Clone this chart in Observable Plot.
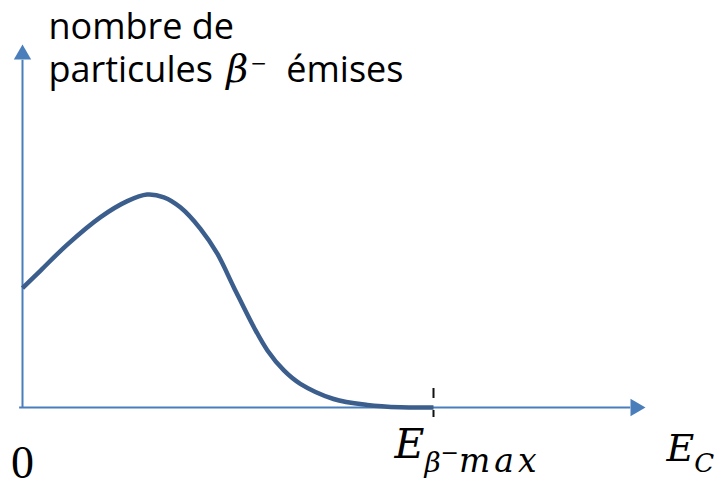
<!DOCTYPE html>
<html>
<head>
<meta charset="utf-8">
<script src="https://cdn.jsdelivr.net/npm/d3@7"></script>
<script src="https://cdn.jsdelivr.net/npm/@observablehq/plot@0.6"></script>
<style>
  body { margin: 0; background: #fff; }
</style>
</head>
<body>
<div id="chart"></div>
<script>
// Beta-minus spectrum: kinetic energy in units of E_β−max, counts relative to the peak
const energy = [0, 0.044, 0.109, 0.190, 0.255, 0.303, 0.344, 0.384, 0.433, 0.474, 0.514, 0.563, 0.596, 0.636, 0.676, 0.757, 0.839, 0.920, 1.0];
const counts = [0.56, 0.643, 0.765, 0.894, 0.969, 1.0, 0.987, 0.940, 0.839, 0.722, 0.565, 0.377, 0.268, 0.174, 0.111, 0.040, 0.012, 0.001, 0];

// Axis extents (data units) and the E_β−max marker
const xAxisStart = -0.007;
const xAxisEnd = 1.48;
const xArrow = 1.4915;
const yAxisEnd = 1.63;
const yArrow = 1.657;
const eMax = [1];

// Text labels
const titleLines = ["nombre de", "particules β− émises"];
const originLabel = ["0"];
const eMaxLabel = ["Eβ−max"];
const axisLabel = ["EC"];

const axisColor = "#4a7ebb";
const curveColor = "#3b5e8c";
const serif = "Liberation Serif";
const mathSerif = "DejaVu Serif";

// Pieces of the labels that mix fonts, sizes and sub/superscripts
const richLabels = {
  "particules β− émises": [
    {text: "particules "},
    {text: "β", family: mathSerif, style: "italic", size: 38, dx: 4},
    {text: "−", family: mathSerif, size: 20, dy: -12, dx: 2},
    {text: " émises", dy: 12, dx: 10}
  ],
  "Eβ−max": [
    {text: "E"},
    {text: "β", size: 28, dy: 14},
    {text: "−", style: "normal", size: 22, dy: -12},
    {text: "max", size: 33, dy: 12, spacing: 4}
  ],
  "EC": [
    {text: "E"},
    {text: "C", size: 26, dy: 11}
  ]
};

const chart = Plot.plot({
  width: 717,
  height: 481,
  margin: 0,
  x: {domain: [0, 1], range: [22, 433], axis: null},
  y: {domain: [0, 1], range: [407, 194], axis: null},
  style: {background: "#fff", overflow: "visible"},
  marks: [
    // axes with arrowheads
    Plot.ruleY([0], {x1: xAxisStart, x2: xAxisEnd, stroke: axisColor, strokeWidth: 2}),
    Plot.ruleX([0], {y1: 0, y2: yAxisEnd, stroke: axisColor, strokeWidth: 2}),
    Plot.dot([{x: xArrow, y: 0, a: 90}, {x: 0, y: yArrow, a: 0}], {
      x: "x", y: "y", rotate: "a", symbol: "triangle", r: 6.43, fill: axisColor, stroke: "none"
    }),
    // spectrum
    Plot.line(energy, {x: energy, y: counts, curve: "catmull-rom", stroke: curveColor, strokeWidth: 4.5, strokeLinecap: "butt"}),
    // E_β−max marker
    Plot.ruleX(eMax, {x: d => d, y1: 0.089, y2: -0.047, stroke: "#111", strokeWidth: 2, strokeDasharray: "10,12"}),
    // labels
    Plot.text(titleLines, {
      x: 0.063, y: (d, i) => [1.732, 1.526][i], text: d => d,
      textAnchor: "start", lineAnchor: "bottom", fontFamily: "Open Sans", fontSize: 36, fill: "#000"
    }),
    Plot.text(originLabel, {
      x: 0, y: -0.329, text: d => d,
      textAnchor: "middle", lineAnchor: "bottom", fontFamily: serif, fontSize: 46, fill: "#000"
    }),
    Plot.text(eMaxLabel, {
      x: 0.905, y: -0.239, text: d => d,
      textAnchor: "start", lineAnchor: "bottom", fontFamily: mathSerif, fontStyle: "italic", fontSize: 41, fill: "#000"
    }),
    Plot.text(axisLabel, {
      x: 1.567, y: -0.249, text: d => d,
      textAnchor: "start", lineAnchor: "bottom", fontFamily: mathSerif, fontStyle: "italic", fontSize: 38, fill: "#000"
    })
  ]
});

// Split the labels above into styled tspans
d3.select(chart).selectAll("text").each(function () {
  const parts = richLabels[this.textContent];
  if (!parts) return;
  const t = d3.select(this);
  t.text(null);
  for (const p of parts) {
    const s = t.append("tspan").text(p.text);
    if (p.family) s.attr("font-family", p.family);
    if (p.style) s.attr("font-style", p.style);
    if (p.size) s.attr("font-size", p.size);
    if (p.dx) s.attr("dx", p.dx);
    if (p.dy) s.attr("dy", p.dy);
    if (p.spacing) s.attr("letter-spacing", p.spacing);
  }
});

document.getElementById("chart").appendChild(chart);
</script>
</body>
</html>
